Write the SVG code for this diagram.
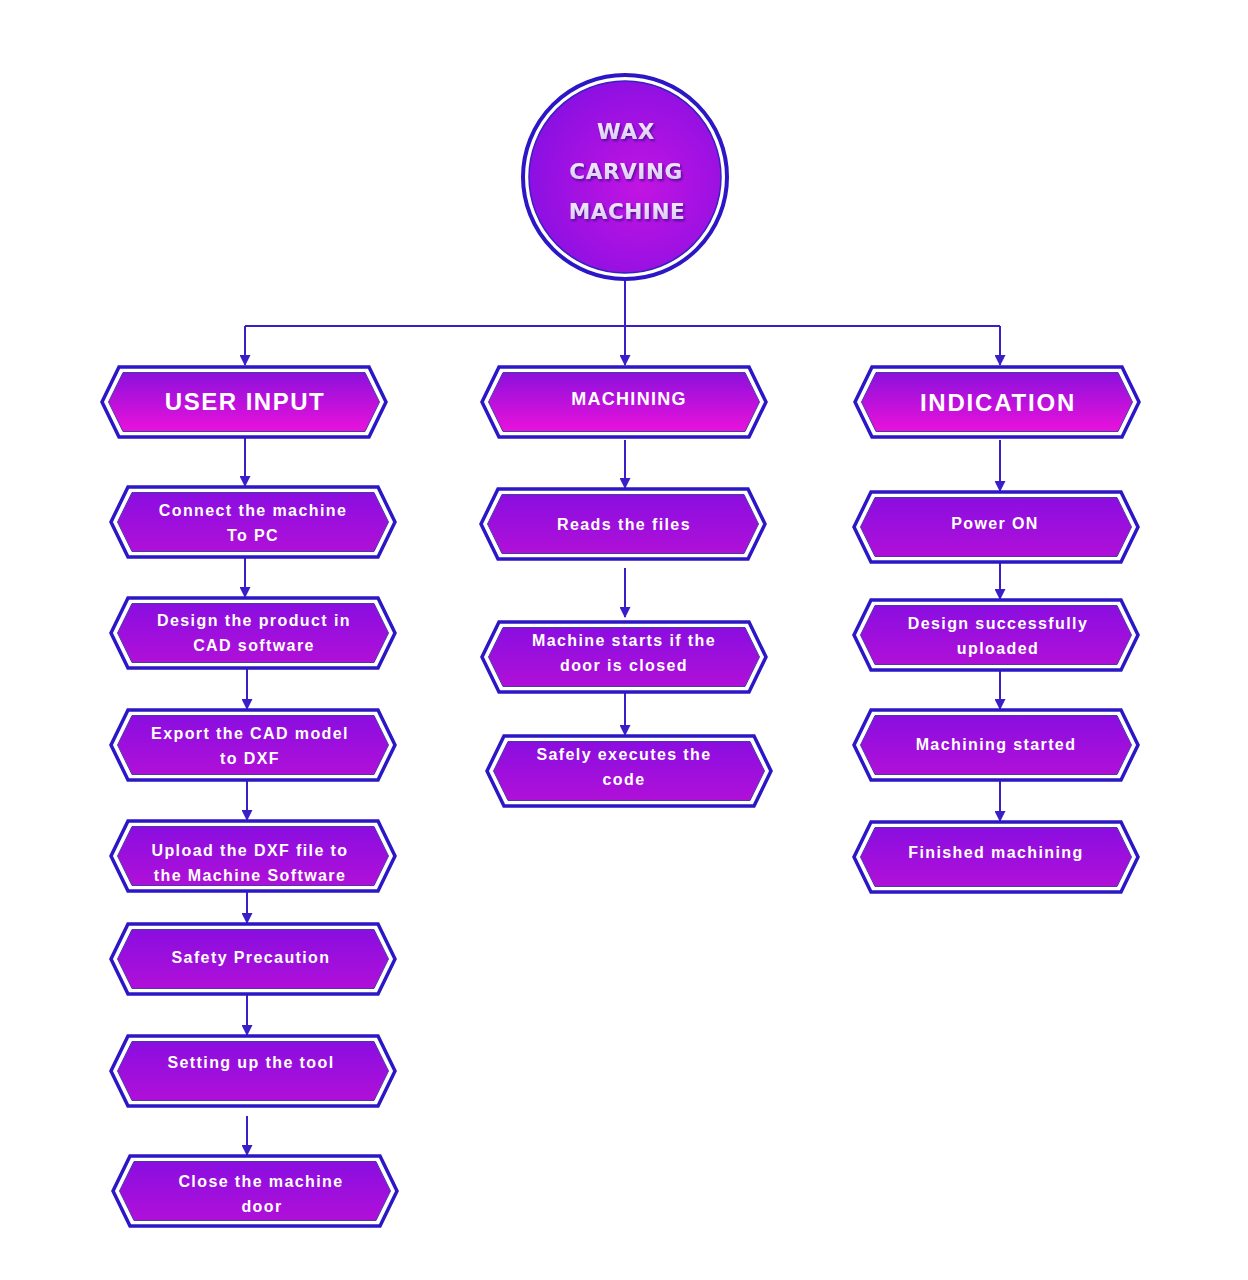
<svg xmlns="http://www.w3.org/2000/svg" xmlns:xlink="http://www.w3.org/1999/xlink" width="1248" height="1280" viewBox="0 0 1248 1280">
  <style>
    .lbl { font-family: "Liberation Sans", Arial, sans-serif; font-weight: bold; font-size: 16px; fill: #ffffff; text-anchor: middle; letter-spacing: 1.4px; }
    .head { font-family: "Liberation Sans", Arial, sans-serif; font-weight: bold; fill: #ffffff; text-anchor: middle; }
    .title { font-family: "DejaVu Sans", Verdana, sans-serif; font-weight: bold; font-size: 21.5px; fill: url(#gTitle); text-anchor: middle; filter: url(#shadow); }
    .wire { fill: none; stroke: #3a1ec8; stroke-width: 2; }
    .arrow { fill: none; stroke: #3a1ec8; stroke-width: 2; marker-end: url(#tip); }
  </style>
  <defs>
    <linearGradient id="gNode" x1="0" y1="0" x2="0" y2="1">
      <stop offset="0" stop-color="#8a0ee0"/>
      <stop offset="1" stop-color="#b010d8"/>
    </linearGradient>
    <linearGradient id="gHead" x1="0" y1="0" x2="0" y2="1">
      <stop offset="0" stop-color="#8c10dc"/>
      <stop offset="1" stop-color="#ea12da"/>
    </linearGradient>
    <linearGradient id="gTitle" x1="0" y1="0" x2="0" y2="1">
      <stop offset="0" stop-color="#f6eeff"/>
      <stop offset="1" stop-color="#d8c4f4"/>
    </linearGradient>
    <radialGradient id="gHub" cx="0.58" cy="0.55" r="0.6">
      <stop offset="0" stop-color="#c214e2"/>
      <stop offset="1" stop-color="#8a10e2"/>
    </radialGradient>
    <filter id="shadow" x="-20%" y="-30%" width="140%" height="170%">
      <feDropShadow dx="1.5" dy="2" stdDeviation="1.2" flood-color="#4a0a8a" flood-opacity="0.9"/>
    </filter>
    <marker id="tip" markerUnits="userSpaceOnUse" markerWidth="11" markerHeight="11" refX="10" refY="5.5" orient="auto">
      <path d="M0,0 L11,5.5 L0,11 Z" fill="#3a1ec8"/>
    </marker>
    <!-- double-outlined hexagon, 284 x 70 -->
    <g id="hexNode">
      <polygon points="17,0 267,0 284,35 267,70 17,70 0,35" fill="#ffffff" stroke="#2c17c6" stroke-width="3.5"/>
      <polygon points="21,5.5 263,5.5 277.5,35 263,64.5 21,64.5 6.5,35" fill="url(#gNode)" stroke="#4a3aa8" stroke-width="1"/>
    </g>
    <g id="hexHead">
      <polygon points="17,0 267,0 284,35 267,70 17,70 0,35" fill="#ffffff" stroke="#2c17c6" stroke-width="3.5"/>
      <polygon points="21,5.5 263,5.5 277.5,35 263,64.5 21,64.5 6.5,35" fill="url(#gHead)" stroke="#4a3aa8" stroke-width="1"/>
    </g>
  </defs>

  <rect width="1248" height="1280" fill="#ffffff"/>

  <!-- connectors -->
  <g id="connectors">
    <path class="wire" d="M625,281 V326 M245,326 H1000"/>
    <path class="arrow" d="M245,326 V365"/>
    <path class="arrow" d="M625,326 V365"/>
    <path class="arrow" d="M1000,326 V365"/>

    <path class="arrow" d="M245,437 V486"/>
    <path class="arrow" d="M245,558 V597"/>
    <path class="arrow" d="M247,668 V709"/>
    <path class="arrow" d="M247,780 V820"/>
    <path class="arrow" d="M247,890 V923"/>
    <path class="arrow" d="M247,995 V1035"/>
    <path class="arrow" d="M247,1116 V1155"/>

    <path class="arrow" d="M625,440 V488"/>
    <path class="arrow" d="M625,568 V617"/>
    <path class="arrow" d="M625,692 V735"/>

    <path class="arrow" d="M1000,440 V491"/>
    <path class="arrow" d="M1000,562 V599"/>
    <path class="arrow" d="M1000,670 V709"/>
    <path class="arrow" d="M1000,780 V821"/>
  </g>

  <!-- hub -->
  <g id="hub">
    <circle cx="625" cy="177" r="102" fill="#ffffff" stroke="#2c17c6" stroke-width="4"/>
    <circle cx="625" cy="177" r="96" fill="url(#gHub)" stroke="#3a20c0" stroke-width="1.5"/>
    <text class="title" x="626" y="139" letter-spacing="0.6">WAX</text>
    <text class="title" x="626" y="179" letter-spacing="0.6">CARVING</text>
    <text class="title" x="627" y="219" letter-spacing="0.6">MACHINE</text>
  </g>

  <!-- column headers -->
  <g id="user-input">
    <use xlink:href="#hexHead" x="102" y="367"/>
    <text class="head" x="245" y="410" font-size="24" letter-spacing="1.5">USER INPUT</text>
  </g>
  <g id="machining">
    <use xlink:href="#hexHead" x="482" y="367"/>
    <text class="head" x="629" y="405" font-size="18" letter-spacing="1.3">MACHINING</text>
  </g>
  <g id="indication">
    <use xlink:href="#hexHead" x="855" y="367"/>
    <text class="head" x="998" y="411" font-size="24" letter-spacing="1.8">INDICATION</text>
  </g>

  <!-- user input steps -->
  <g id="connect-pc">
    <use xlink:href="#hexNode" x="111" y="487"/>
    <text class="lbl" x="253" y="516">Connect the machine</text>
    <text class="lbl" x="253" y="541">To PC</text>
  </g>
  <g id="design-cad">
    <use xlink:href="#hexNode" x="111" y="598"/>
    <text class="lbl" x="254" y="626">Design the product in</text>
    <text class="lbl" x="254" y="651">CAD software</text>
  </g>
  <g id="export-dxf">
    <use xlink:href="#hexNode" x="111" y="710"/>
    <text class="lbl" x="250" y="739">Export the CAD model</text>
    <text class="lbl" x="250" y="764">to DXF</text>
  </g>
  <g id="upload-dxf">
    <use xlink:href="#hexNode" x="111" y="821"/>
    <text class="lbl" x="250" y="856">Upload the DXF file to</text>
    <text class="lbl" x="250" y="881">the Machine Software</text>
  </g>
  <g id="safety">
    <use xlink:href="#hexNode" x="111" y="924"/>
    <text class="lbl" x="251" y="963">Safety Precaution</text>
  </g>
  <g id="setup-tool">
    <use xlink:href="#hexNode" x="111" y="1036"/>
    <text class="lbl" x="251" y="1068">Setting up the tool</text>
  </g>
  <g id="close-door">
    <use xlink:href="#hexNode" x="113" y="1156"/>
    <text class="lbl" x="261" y="1187">Close the machine</text>
    <text class="lbl" x="262" y="1212">door</text>
  </g>

  <!-- machining steps -->
  <g id="reads-files">
    <use xlink:href="#hexNode" x="481" y="489"/>
    <text class="lbl" x="624" y="530">Reads the files</text>
  </g>
  <g id="machine-starts">
    <use xlink:href="#hexNode" x="482" y="622"/>
    <text class="lbl" x="624" y="646">Machine starts if the</text>
    <text class="lbl" x="624" y="671">door is closed</text>
  </g>
  <g id="executes-code">
    <use xlink:href="#hexNode" x="487" y="736"/>
    <text class="lbl" x="624" y="760">Safely executes the</text>
    <text class="lbl" x="624" y="785">code</text>
  </g>

  <!-- indication steps -->
  <g id="power-on">
    <use xlink:href="#hexNode" x="854" y="492"/>
    <text class="lbl" x="995" y="529">Power ON</text>
  </g>
  <g id="design-uploaded">
    <use xlink:href="#hexNode" x="854" y="600"/>
    <text class="lbl" x="998" y="629">Design successfully</text>
    <text class="lbl" x="998" y="654">uploaded</text>
  </g>
  <g id="machining-started">
    <use xlink:href="#hexNode" x="854" y="710"/>
    <text class="lbl" x="996" y="750">Machining started</text>
  </g>
  <g id="finished">
    <use xlink:href="#hexNode" x="854" y="822"/>
    <text class="lbl" x="996" y="858">Finished machining</text>
  </g>
</svg>
